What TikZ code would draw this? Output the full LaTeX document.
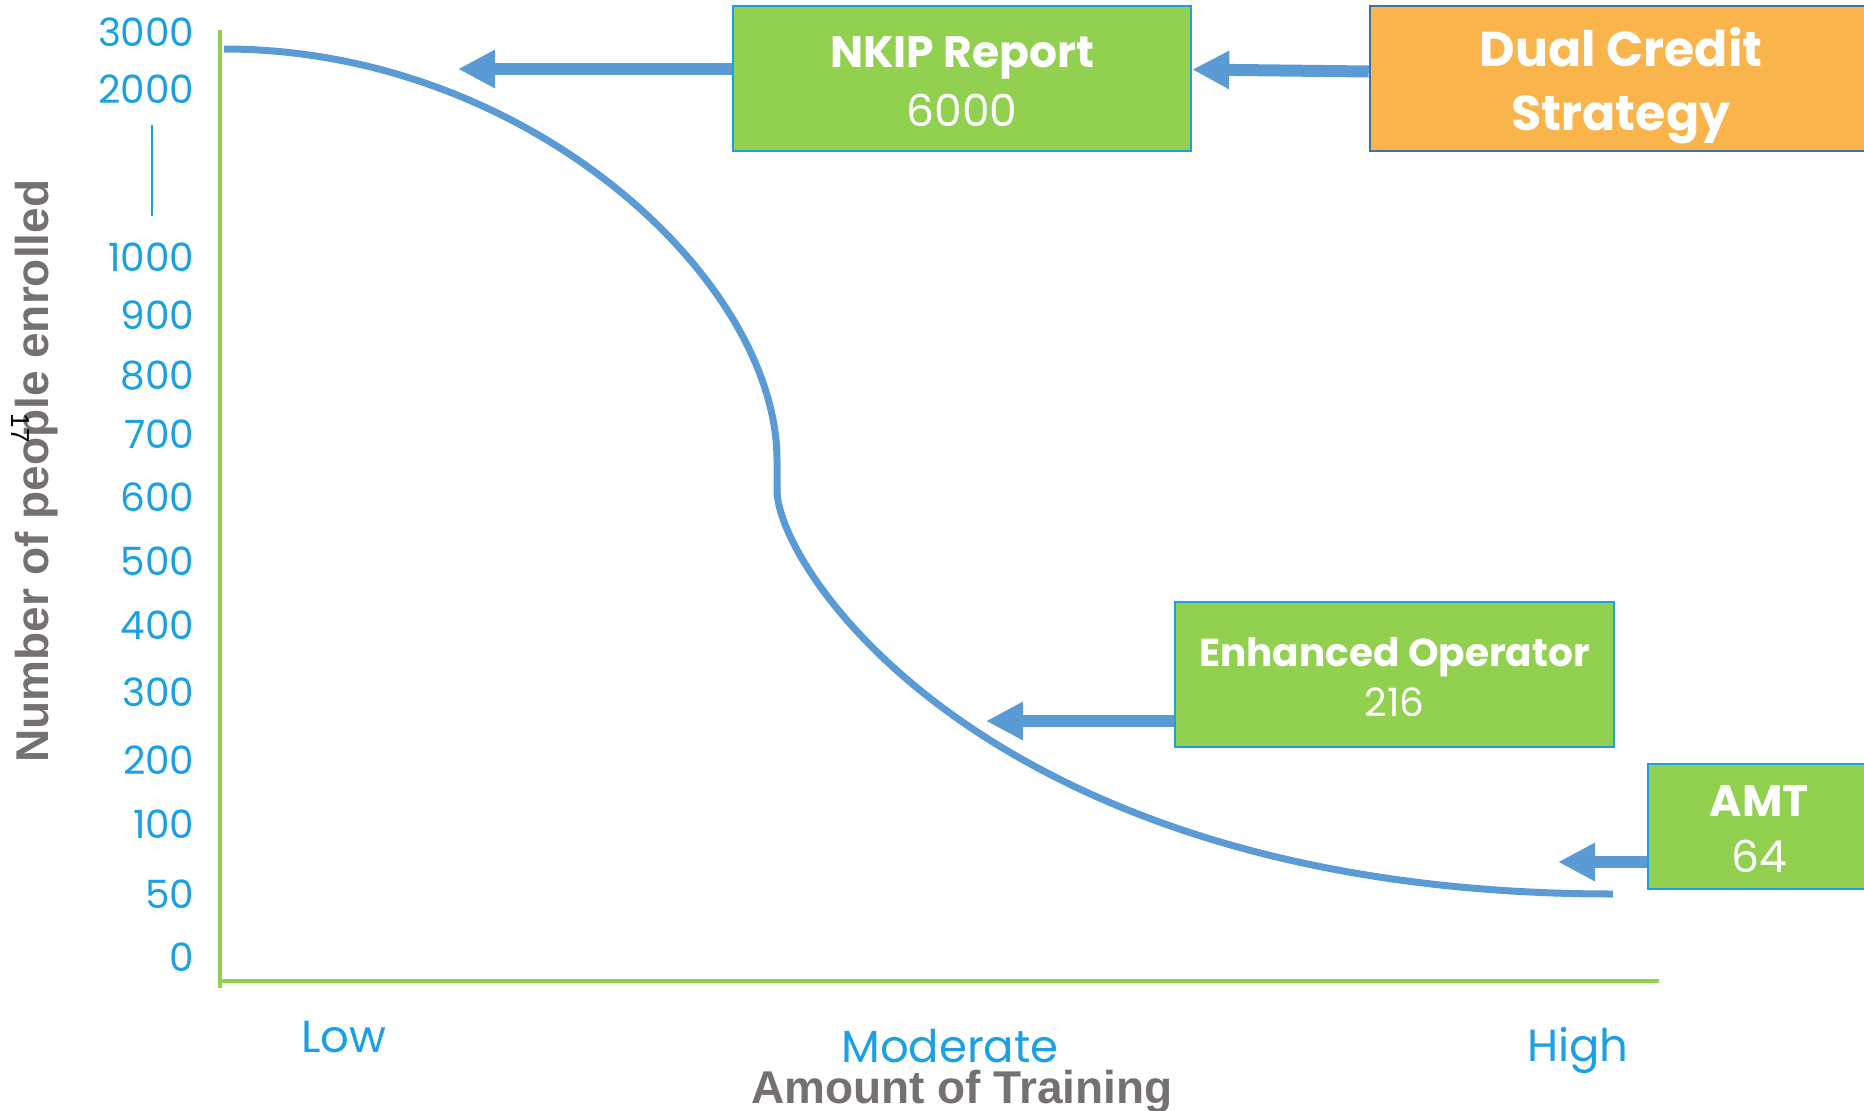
\documentclass[tikz,border=0pt]{standalone}
\usepackage{fontspec}
\setmainfont{Poppins}
\newfontfamily\titlefont{Liberation Sans}
\usetikzlibrary{calc}
\usetikzlibrary{positioning}
\usetikzlibrary{arrows.meta}

\definecolor{axisgreen}{HTML}{92D050}
\definecolor{labelblue}{HTML}{1BA1E2}
\definecolor{curveblue}{HTML}{5B9BD5}
\definecolor{boxorange}{HTML}{F9B44B}
\definecolor{borderdark}{HTML}{41719C}
\definecolor{titlegray}{HTML}{767171}

% strut that pushes a box's first line down
\newcommand{\firstline}[1]{\rule{0pt}{#1}}

\tikzset{
  greenbox/.style={draw=labelblue, line width=2.5pt, fill=axisgreen, text=white, align=center, inner sep=0pt},
  flow/.style={curveblue, line width=12pt, -{Triangle[length=37pt,width=36pt]}},
  ticklabel/.style={labelblue, anchor=east, font=\fontsize{39}{42}\selectfont},
  levellabel/.style={labelblue, anchor=base, font=\fontsize{45}{50}\selectfont},
  axistitle/.style={titlegray, font=\titlefont\bfseries\fontsize{46}{50}\selectfont}
}

\begin{document}
\begin{tikzpicture}[x=1pt, y=-1pt]
            \useasboundingbox (0,0) rectangle (1864,1111);

            % Axes
            \draw[axisgreen, line width=4.5pt] (220,30) -- (220,988);
            \draw[axisgreen, line width=4.5pt] (218,981) -- (1659,981);

            % Tick labels
            \foreach \val/\ypos in {3000/32, 2000/89, 1000/257, 900/315, 800/376, 700/434, 600/497,
                                    500/561, 400/625, 300/692, 200/760, 100/824, 50/894, 0/957}
                \node[ticklabel] (y\val) at (198,\ypos) {\val};
            \coordinate (gapA) at (152,125);
            \coordinate (gapB) at (152,216);
            \draw[labelblue, line width=1.2pt] (gapA) -- (gapB);

            \node[levellabel] (low) at (344,1052) {Low};
            \node[levellabel] (moderate) at (950,1062) {Moderate};
            \node[levellabel] (high) at (1578,1061) {High};

            % Axis titles
            \node[axistitle, anchor=base] (xtitle) at (962,1103) {Amount of Training};
            \node[axistitle, rotate=90] (ytitle) at (37,471) {Number of people enrolled};
            \node[rotate=-90, font=\titlefont\fontsize{26}{28}\selectfont] (pagenum) at (20,428) {17};

            % Curve
            \draw[curveblue, line width=7pt] (224,49) .. controls (528,49) and (777,280) .. (777,460)
                -- (777,490) .. controls (777,570) and (993,894) .. (1613,894);

            % Programmes
            \node[greenbox, minimum width=458pt, minimum height=145pt, font=\fontsize{44}{59}\selectfont]
                (nkip) at (962,78.5) {\firstline{38pt}\bfseries NKIP Report\\6000};
            \node[draw=borderdark, line width=2.5pt, fill=boxorange, text=white, align=center, inner sep=0pt,
                minimum width=502pt, minimum height=145pt, font=\bfseries\fontsize{49}{64}\selectfont]
                (dual) at (1621,78.5) {\firstline{54pt}Dual Credit\\Strategy};
            \node[greenbox, minimum width=439pt, minimum height=145pt, font=\fontsize{39}{50}\selectfont]
                (op) at (1394.5,674.5) {\firstline{35pt}\bfseries Enhanced Operator\\216};
            \node[greenbox, minimum width=222pt, minimum height=125pt, font=\fontsize{44}{56}\selectfont]
                (amt) at (1759,826.5) {\firstline{37pt}\bfseries AMT\\64};

            % Arrows
            \coordinate (nkiptip) at (458,69);
            \coordinate (optip) at (986,721);
            \coordinate (amttip) at (1558,862);
            \draw[flow] ([yshift=9.5pt]nkip.west) -- (nkiptip);
            \draw[flow] ([yshift=7pt]dual.west) -- ([yshift=9pt]nkip.east);
            \draw[flow] ([yshift=-46.5pt]op.west) -- (optip);
            \draw[flow] ([yshift=-35.5pt]amt.west) -- (amttip);

        \end{tikzpicture}
\end{document}
